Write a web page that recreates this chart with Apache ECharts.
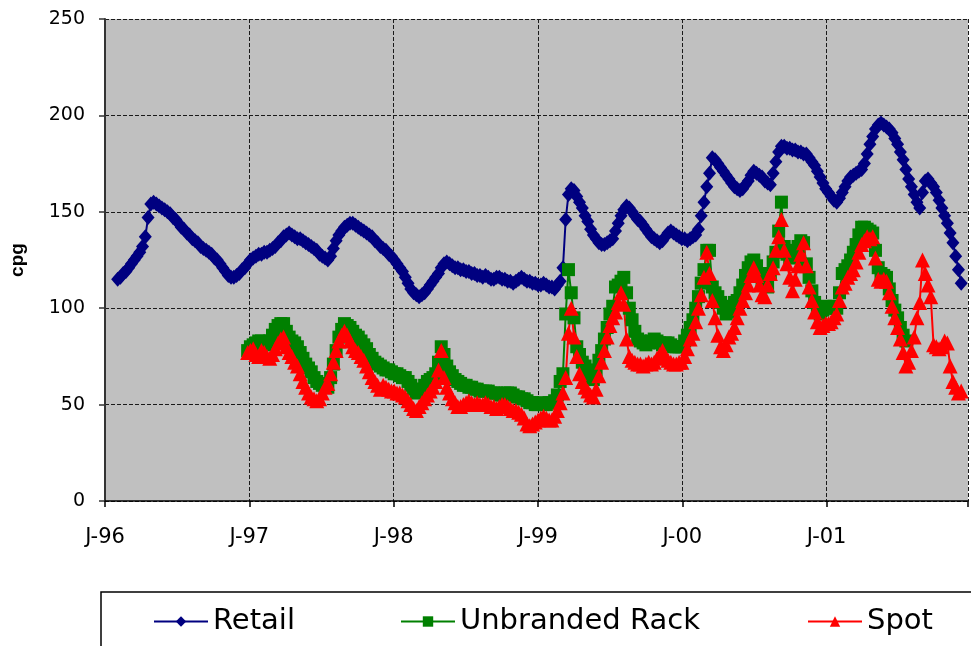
<!DOCTYPE html>
<html>
<head>
<meta charset="utf-8">
<script src="https://cdn.jsdelivr.net/npm/echarts@6/dist/echarts.min.js"></script>
<style>
  html, body { margin: 0; padding: 0; background: #ffffff; }
  #chart { width: 971px; height: 646px; }
</style>
</head>
<body>
<div id="chart"></div>
<script>
// Weekly gasoline prices, cents per gallon
const retailStart = '1996-02-02';
const wholesaleStart = '1996-12-27';

const retail = [
  115,116,118,119,121,123,125,127,129,132,137,147,154,155,
  154,153,152,151,150,149,147,146,144,142,
  141,139,138,136,135,134,132,
  131,130,129,128,126,125,123,121,119,117,116,
  116,117,118,120,121,123,125,
  126,127,128,128,129,129,130,
  131,132,134,135,137,138,139,
  138,137,136,136,135,134,133,
  132,131,130,128,127,126,125,
  127,131,135,138,140,142,143,144,
  144,143,142,141,140,139,138,137,135,134,132,131,130,128,127,
  125,123,121,119,116,113,110,108,107,106,
  107,108,110,112,114,116,118,121,123,124,
  123,122,121,121,120,120,119,119,118,118,117,117,116,117,116,115,115,116,
  116,115,115,114,114,113,114,115,116,115,114,114,113,113,112,112,113,112,111,111,110,112,114,
  121,146,159,162,161,158,155,152,148,145,141,138,136,134,133,133,
  134,135,136,140,144,148,151,153,
  152,150,148,146,145,143,141,139,137,136,135,
  134,135,137,139,140,139,138,137,136,136,135,136,137,138,
  141,148,155,163,170,178,177,
  175,173,171,169,167,165,163,162,161,
  162,164,166,169,171,
  170,169,168,166,165,164,
  170,176,181,184,
  184,183,183,182,182,181,181,180,180,
  178,176,174,171,168,165,162,160,158,156,155,
  157,160,163,166,168,169,170,171,172,
  175,180,185,189,193,195,
  196,195,194,193,191,188,185,181,177,172,
  167,163,159,155,152,
  160,166,167,165,
  163,160,156,152,148,144,139,134,127,120,113
];

const unbrandedRack = [
  78,80,81,82,83,83,
  82,81,83,86,89,91,92,92,
  88,85,83,82,80,
  77,74,71,69,67,64,62,61,60,59,59,
  64,71,78,85,89,92,91,
  90,88,86,85,83,81,79,76,74,72,
  71,70,69,68,68,67,66,66,65,64,64,62,60,58,56,
  57,58,60,62,63,64,66,72,80,76,70,
  67,65,63,62,61,60,60,59,59,58,58,57,57,57,
  57,56,56,56,55,55,56,56,56,55,54,54,53,53,52,51,51,50,50,51,50,50,51,51,
  52,55,62,66,97,120,108,95,80,76,72,70,66,63,63,68,73,78,
  84,90,97,101,111,112,114,116,
  108,100,94,88,84,
  83,82,81,82,83,84,83,82,81,82,82,81,80,80,80,80,
  83,86,90,94,100,106,113,120,130,130,111,
  108,106,103,100,97,98,101,103,104,
  108,112,117,121,124,125,
  122,118,114,112,111,
  118,124,129,140,155,132,
  128,126,127,130,132,135,134,123,
  116,109,103,98,97,99,101,
  100,100,101,100,108,118,
  120,122,125,129,133,138,142,
  142,141,140,139,130,121,
  118,117,116,110,104,99,95,90,86,83
];

const spot = [
  77,78,79,76,75,78,
  77,75,74,76,79,82,84,85,
  80,77,75,72,70,
  66,62,59,56,54,53,52,53,56,59,61,
  66,72,78,83,86,88,86,
  83,80,78,77,75,73,70,67,64,62,60,58,
  60,59,58,57,57,56,56,55,54,52,50,48,47,
  49,51,53,55,57,59,62,68,78,64,59,
  56,53,51,49,49,50,51,52,51,50,51,50,50,51,
  50,49,49,48,49,50,50,49,48,47,47,46,45,43,40,39,40,41,42,43,44,43,42,42,
  44,47,51,56,64,87,100,85,75,66,62,59,57,55,54,58,65,72,
  78,85,91,95,98,103,108,102,84,75,73,72,71,
  71,70,71,72,71,72,74,76,78,75,73,72,71,71,72,72,
  75,79,84,87,93,100,107,116,129,118,104,
  95,86,80,78,81,85,87,90,95,
  100,104,108,112,117,121,
  117,112,107,106,112,
  118,121,130,137,146,130,
  123,116,109,115,122,128,134,122,
  111,104,98,93,90,91,92,
  92,93,95,97,104,111,
  113,116,118,120,124,129,133,
  135,137,136,137,126,115,
  114,115,114,108,101,95,90,84,77,70,
  72,78,85,95,103,125,118,112,106,81,80,79,80,83,82,70,62,59,56,57
];

const yearLabels = ['J-96', 'J-97', 'J-98', 'J-99', 'J-00', 'J-01'];
const seriesNames = ['Retail', 'Unbranded Rack', 'Spot'];

// Weekly observation dates expressed as fractional years on the x axis
const DAY = 86400000;
function fractionalYear(ms) {
  return 1996 + (ms - Date.UTC(1996, 0, 1)) / (365.25 * DAY);
}
function weeklySeries(start, values) {
  const t0 = Date.parse(start + 'T00:00:00Z');
  return values.map((v, i) => [fractionalYear(t0 + i * 7 * DAY), v]);
}

const chart = echarts.init(document.getElementById('chart'), null, { renderer: 'canvas' });

const gridLine = { show: true, lineStyle: { color: '#1a1a1a', width: 1, type: [4, 2] } };
const legendText = { fontFamily: 'DejaVu Sans', fontSize: 29, color: '#000000' };

function legendAt(name, left) {
  return {
    data: [name], left: left, top: 607, padding: 0, itemGap: 0,
    itemWidth: 54, itemHeight: 13, textStyle: legendText,
    selectedMode: false
  };
}

chart.setOption({
  animation: false,
  backgroundColor: '#ffffff',
  grid: {
    left: 103, top: 19, right: -5, bottom: 145,
    show: true, backgroundColor: '#c0c0c0', borderWidth: 0
  },
  graphic: [{
    type: 'rect', z: 0, silent: true,
    shape: { x: 101, y: 592, width: 900, height: 100 },
    style: { fill: '#ffffff', stroke: '#000000', lineWidth: 1.5 }
  }],
  legend: [
    legendAt(seriesNames[0], 153),
    legendAt(seriesNames[1], 400),
    legendAt(seriesNames[2], 807)
  ],
  xAxis: {
    type: 'value', min: 1996, max: 2001.98, interval: 1,
    axisLine: { show: true, lineStyle: { color: '#000000', width: 1.5 } },
    axisTick: { show: true, length: 6, lineStyle: { color: '#000000', width: 1.5 } },
    splitLine: gridLine,
    axisLabel: {
      margin: 26, fontFamily: 'DejaVu Sans', fontSize: 21, color: '#000000',
      formatter: v => Number.isInteger(v) ? (yearLabels[v - 1996] || '') : ''
    }
  },
  yAxis: {
    type: 'value', min: 0, max: 250, interval: 50,
    name: 'cpg', nameLocation: 'middle', nameGap: 78,
    nameTextStyle: { fontFamily: 'Liberation Sans', fontWeight: 'bold', fontSize: 19, color: '#000000' },
    axisLine: { show: true, lineStyle: { color: '#333333', width: 2 } },
    axisTick: { show: true, length: 6, lineStyle: { color: '#333333', width: 1.5 } },
    splitLine: gridLine,
    axisLabel: { margin: 20, fontFamily: 'DejaVu Sans', fontSize: 19, color: '#000000' }
  },
  series: [
    {
      name: seriesNames[0], type: 'line', data: weeklySeries(retailStart, retail),
      symbol: 'diamond', symbolSize: [13, 15], showAllSymbol: true,
      itemStyle: { color: '#000080' }, lineStyle: { color: '#000080', width: 2 }
    },
    {
      name: seriesNames[1], type: 'line', data: weeklySeries(wholesaleStart, unbrandedRack),
      symbol: 'rect', symbolSize: 13, showAllSymbol: true,
      itemStyle: { color: '#008000' }, lineStyle: { color: '#008000', width: 2 }
    },
    {
      name: seriesNames[2], type: 'line', data: weeklySeries(wholesaleStart, spot),
      symbol: 'triangle', symbolSize: 15, showAllSymbol: true,
      itemStyle: { color: '#ff0000' }, lineStyle: { color: '#ff0000', width: 2 }
    }
  ]
});
</script>
</body>
</html>
